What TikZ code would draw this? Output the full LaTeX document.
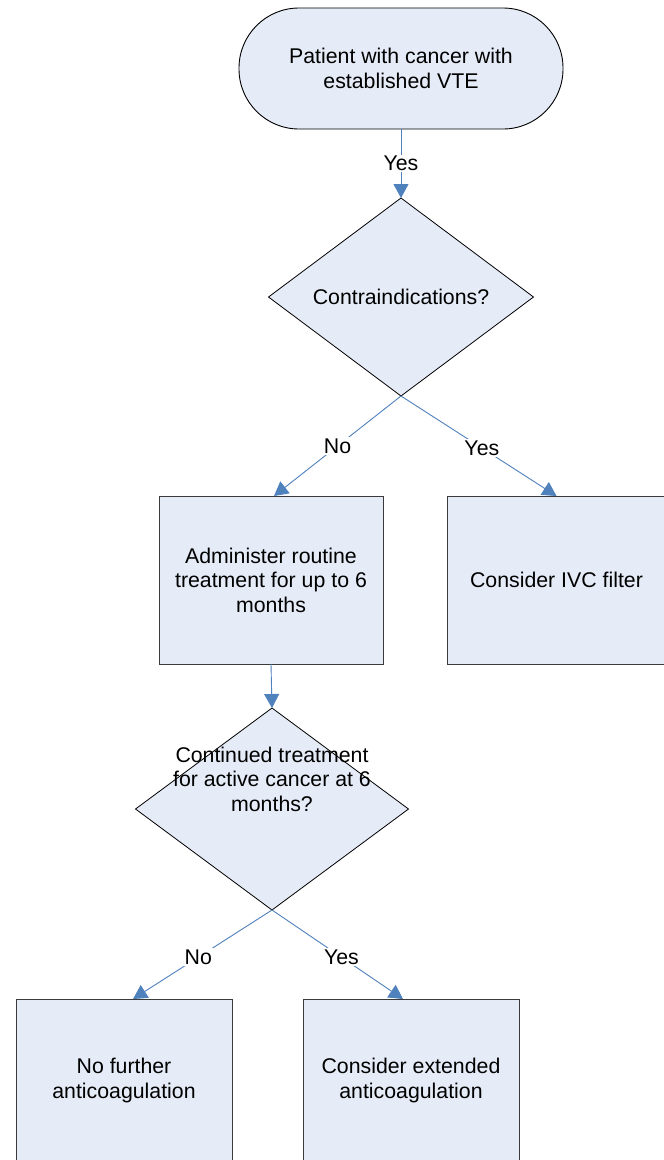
\documentclass[tikz,border=0pt]{standalone}
\usepackage{fontspec}
\setmainfont{Liberation Sans}
\usetikzlibrary{shapes.geometric,arrows.meta}
\definecolor{boxfill}{HTML}{E6ECF7}
\definecolor{linkblue}{HTML}{4F81BD}
\definecolor{edgegray}{HTML}{3A3A3A}
\begin{document}
\begin{tikzpicture}[x=1pt,y=-1pt,
  every node/.style={font=\fontsize{21.3}{24.5}\selectfont, text=black},
  term/.style={draw=black, fill=boxfill, rounded corners=60pt, minimum width=324pt, minimum height=121pt, inner sep=0pt, outer sep=0pt, line width=0.9pt, align=center},
  proc/.style={draw=edgegray, fill=boxfill, inner sep=0pt, outer sep=0pt, line width=1pt, align=center},
  decision/.style={diamond, draw=black, fill=boxfill, inner sep=0pt, outer sep=0pt, line width=0.8pt},
  link/.style={draw=linkblue, line width=0.9pt, -{Triangle[width=15pt,length=14pt]}},
  lbl/.style={fill=white, inner sep=1.5pt}]
\useasboundingbox (0,0) rectangle (664,1160);
\fill[white] (0,0) rectangle (664,1160);

\node[term] (start) at (401,68.5) {Patient with cancer with\\established VTE};

\node[decision, minimum width=265pt, minimum height=198pt] (d1) at (401,297) {};
\node (d1t) at (401,297) {Contraindications?};

\node[proc, minimum width=224pt, minimum height=168pt] (b1) at (271,580) {Administer routine\\treatment for up to 6\\months};
\node[proc, minimum width=219pt, minimum height=168pt] (b2) at (556.5,580) {Consider IVC filter};

\node[decision, minimum width=273pt, minimum height=202pt] (d2) at (272,809) {};
\node[align=center] (d2t) at (272,779) {Continued treatment\\for active cancer at 6\\months?};

\node[proc, minimum width=216pt, minimum height=163pt] (b3) at (124,1080.5) {No further\\anticoagulation};
\node[proc, minimum width=216pt, minimum height=163pt] (b4) at (411,1080.5) {Consider extended\\anticoagulation};

\draw[link] (start.south) -- node[lbl] {Yes} (d1.north);
\draw[link] (d1.south) -- node[lbl] {No} ([xshift=3pt]b1.north);
\draw[link] (d1.south) -- node[lbl, pos=0.52] {Yes} (b2.north);
\draw[link] (b1.south) -- (d2.north);
\draw[link] (d2.south) -- node[lbl, pos=0.53] {No} ([xshift=9pt]b3.north);
\draw[link] (d2.south) -- node[lbl, pos=0.53] {Yes} ([xshift=-8pt]b4.north);
\end{tikzpicture}
\end{document}
